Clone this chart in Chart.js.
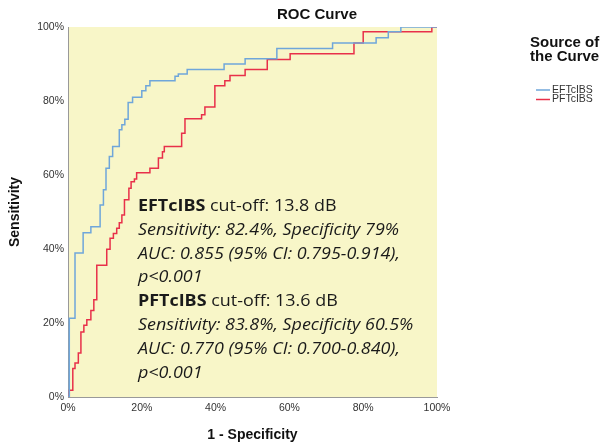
<!DOCTYPE html>
<html>
<head>
<meta charset="utf-8">
<script src="https://cdn.jsdelivr.net/npm/chart.js@4"></script>
<style>
  html, body { margin: 0; padding: 0; background: #fff; }
  #wrap { position: relative; width: 602px; height: 444px; }
</style>
</head>
<body>
<div id="wrap"><canvas id="roc"></canvas></div>
<script>
// ROC data (percent)
const eftFpr  = [0, 0.35, 1.9, 4.1, 6.2, 8.7, 9.6, 10.3, 11.2, 12.1, 13.9, 14.6, 15.4, 16.3, 17.5, 20.0, 21.1, 22.2, 29.0, 29.9, 32.3, 42.3, 48.0, 56.6, 71.7, 83.5, 86.8, 90.2, 100];
const eftSens = [0, 21.3, 38.9, 44.4, 46.0, 51.9, 56.0, 61.8, 65.0, 67.7, 72.2, 73.6, 75.1, 79.6, 81.0, 82.8, 84.1, 85.5, 86.7, 87.3, 88.5, 90.0, 91.4, 94.2, 95.7, 97.1, 98.7, 100, 100];

const pftFpr  = [0, 0.35, 1.3, 1.9, 2.8, 3.5, 4.3, 5.1, 6.2, 7.0, 7.8, 10.5, 11.4, 12.3, 13.2, 13.9, 14.6, 15.3, 16.5, 17.1, 18.0, 18.6, 22.2, 24.5, 25.6, 26.1, 30.8, 31.7, 36.2, 37.1, 39.8, 42.5, 43.9, 48.0, 54.0, 60.2, 77.5, 80.0, 98.6, 100];
const pftSens = [0, 1.8, 7.7, 9.2, 11.9, 17.6, 19.4, 20.9, 23.4, 26.3, 35.6, 39.9, 42.9, 44.2, 45.6, 47.1, 49.2, 53.3, 56.4, 58.2, 58.9, 60.6, 61.8, 64.6, 66.3, 67.7, 71.3, 75.2, 76.3, 78.4, 84.1, 85.5, 86.9, 88.5, 91.2, 92.8, 95.7, 98.7, 100, 100];

const seriesNames = ['EFTcIBS', 'PFTcIBS'];
const tickLabels = ['0%', '20%', '40%', '60%', '80%', '100%'];

const blue = '#6fa6da';
const red = '#e8304a';

const toPoints = (xs, ys) => xs.map((x, i) => ({ x: x, y: ys[i] }));

// annotation text, runs of [text, style]
const noteLines = [
  [['EFTcIBS', 'bold'], [' cut-off: 13.8 dB', 'normal']],
  [['Sensitivity: 82.4%, Specificity 79%', 'italic']],
  [['AUC: 0.855 (95% CI: 0.795-0.914),', 'italic']],
  [['p<0.001', 'italic']],
  [['PFTcIBS', 'bold'], [' cut-off: 13.6 dB', 'normal']],
  [['Sensitivity: 83.8%, Specificity 60.5%', 'italic']],
  [['AUC: 0.770 (95% CI: 0.700-0.840),', 'italic']],
  [['p<0.001', 'italic']]
];

const plotBg = {
  id: 'plotBg',
  beforeDraw(chart) {
    const { ctx, chartArea: a } = chart;
    ctx.save();
    ctx.fillStyle = '#f8f6c8';
    ctx.fillRect(a.left, a.top, a.right - a.left, a.bottom - a.top);
    ctx.restore();
  }
};

const extras = {
  id: 'extras',
  afterDraw(chart) {
    const ctx = chart.ctx;
    ctx.save();
    // title
    ctx.fillStyle = '#111';
    ctx.font = 'bold 15px "Liberation Sans", Arial, sans-serif';
    ctx.textAlign = 'center';
    ctx.textBaseline = 'middle';
    ctx.fillText('ROC Curve', 317, 15);

    // legend
    ctx.textAlign = 'left';
    ctx.fillText('Source of', 530, 43);
    ctx.fillText('the Curve', 530, 57);
    ctx.font = '10.5px "Liberation Sans", Arial, sans-serif';
    ctx.fillStyle = '#333';
    [blue, red].forEach((c, i) => {
      const y = 90 + i * 9.5;
      ctx.strokeStyle = c;
      ctx.lineWidth = 1.5;
      ctx.beginPath();
      ctx.moveTo(536, y);
      ctx.lineTo(550, y);
      ctx.stroke();
      ctx.fillText(seriesNames[i], 552, y);
    });

    // cut-off note (text box in the source is a bit wider than the font)
    ctx.fillStyle = '#1a1a1a';
    const sx = 1.12;
    noteLines.forEach((runs, i) => {
      let x = 0;
      const y = 206.5 + i * 23.8;
      runs.forEach(([txt, st]) => {
        const f = st === 'bold' ? 'bold ' : st === 'italic' ? 'italic ' : '';
        ctx.font = f + '16px "Open Sans", "Noto Sans", sans-serif';
        ctx.save();
        ctx.translate(138 + x * sx, y);
        ctx.scale(sx, 1);
        ctx.fillText(txt, 0, 0);
        ctx.restore();
        x += ctx.measureText(txt).width;
      });
    });
    ctx.restore();
  }
};

new Chart(document.getElementById('roc'), {
  type: 'line',
  data: {
    datasets: [
      {
        label: seriesNames[0],
        data: toPoints(eftFpr, eftSens),
        borderColor: blue,
        borderWidth: 1.5,
        stepped: true,
        pointRadius: 0,
        fill: false
      },
      {
        label: seriesNames[1],
        data: toPoints(pftFpr, pftSens),
        borderColor: red,
        borderWidth: 1.5,
        stepped: true,
        pointRadius: 0,
        fill: false
      }
    ]
  },
  options: {
    responsive: true,
    maintainAspectRatio: false,
    animation: false,
    layout: { padding: { top: 27, right: 165, left: 0, bottom: 0 } },
    plugins: {
      legend: { display: false },
      tooltip: { enabled: false }
    },
    scales: {
      x: {
        type: 'linear',
        min: 0,
        max: 100,
        grid: { display: false, drawTicks: false },
        border: { display: true, color: '#999', width: 1 },
        ticks: {
          stepSize: 20,
          padding: 5,
          maxRotation: 0,
          color: '#333',
          font: { family: '"Liberation Sans", Arial', size: 10.5 },
          callback: v => tickLabels[v / 20]
        },
        title: {
          display: true,
          text: '1 - Specificity',
          color: '#111',
          font: { family: '"Liberation Sans", Arial', size: 14, weight: 'bold' },
          padding: { top: 0, bottom: 0 }
        },
        afterFit: s => { s.height = 47; }
      },
      y: {
        min: 0,
        max: 100,
        grid: { display: false, drawTicks: false },
        border: { display: true, color: '#999', width: 1 },
        ticks: {
          stepSize: 20,
          padding: 4,
          color: '#333',
          font: { family: '"Liberation Sans", Arial', size: 10.5 },
          callback: v => tickLabels[v / 20]
        },
        title: {
          display: true,
          text: 'Sensitivity',
          color: '#111',
          font: { family: '"Liberation Sans", Arial', size: 14, weight: 'bold' },
          padding: { top: 7, bottom: 0 }
        },
        afterFit: s => { s.width = 68; }
      }
    }
  },
  plugins: [plotBg, extras]
});
</script>
</body>
</html>
